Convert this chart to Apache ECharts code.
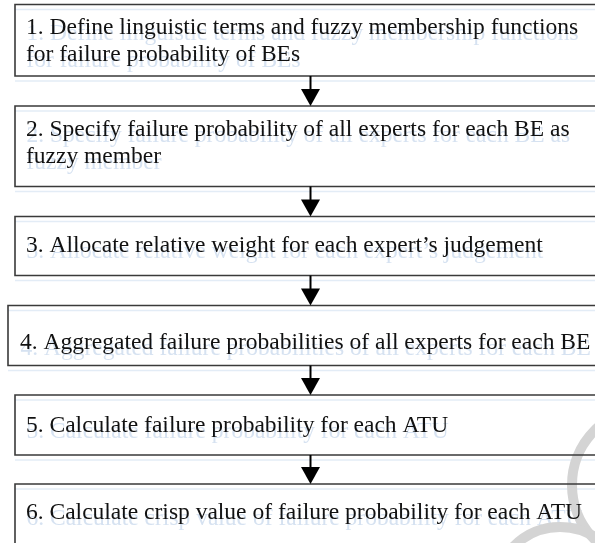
<!DOCTYPE html>
<html>
<head>
<meta charset="utf-8">
<script src="https://cdn.jsdelivr.net/npm/echarts@6/dist/echarts.min.js"></script>
<style>
html,body{margin:0;padding:0;background:#fff;}
#chart{width:595px;height:543px;}
</style>
</head>
<body>
<div id="chart"></div>
<script>
// Flowchart content
var steps = [
  ['1. Define linguistic terms and fuzzy membership functions', 'for failure probability of BEs'],
  ['2. Specify failure probability of all experts for each BE as', 'fuzzy member'],
  ['3. Allocate relative weight for each expert\u2019s judgement'],
  ['4. Aggregated failure probabilities of all experts for each BE'],
  ['5. Calculate failure probability for each ATU'],
  ['6. Calculate crisp value of failure probability for each ATU']
];

// layout (pixels)
var boxTop    = [4.5, 106, 216.5, 305.5, 395, 484];
var boxBottom = [76, 186.5, 275.5, 365.5, 455, 600];
var boxLeft   = [15, 15, 15, 8, 15, 15];
var firstBaseline = [35, 137, 253, 350, 433, 520];
var textLeft  = [26, 26, 26, 20, 26, 26];
var lineGap = 27;
var arrowX = 310.5;
var FONT = '"Liberation Serif","Times New Roman",serif';
var fontSize = 23.5;
var midOff = 0.32 * fontSize;

var g = [];
// ghost (scan bleed) layer
for (var i = 0; i < steps.length; i++) {
  [boxTop[i], boxBottom[i]].forEach(function (yy) {
    g.push({type:'line', shape:{x1:boxLeft[i], y1:yy+5, x2:600, y2:yy+5},
      style:{stroke:'#e3ecf6', lineWidth:1.5}, z:1});
  });
  steps[i].forEach(function (t, k) {
    g.push({type:'text', x:textLeft[i]+0.5, y:firstBaseline[i] + k*lineGap - midOff + 6,
      style:{text:t, font: fontSize+'px '+FONT, fill:'#d6e2f1', verticalAlign:'middle'}, z:2});
  });
}
// watermark arcs
g.push({type:'arc', shape:{cx:649, cy:485, r:77, startAngle:0, endAngle:Math.PI*2}, style:{stroke:'#d4d4d4', lineWidth:10, fill:null}, z:3});
g.push({type:'arc', shape:{cx:560, cy:592, r:65, startAngle:0, endAngle:Math.PI*2}, style:{stroke:'#d4d4d4', lineWidth:10, fill:null}, z:3});

for (var i = 0; i < steps.length; i++) {
  g.push({type:'rect', shape:{x:boxLeft[i], y:boxTop[i], width:620, height:boxBottom[i]-boxTop[i]},
    style:{stroke:'#3a3a3a', lineWidth:1.6, fill:'rgba(255,255,255,0)'}, z:5});
  steps[i].forEach(function (t, k) {
    g.push({type:'text', x:textLeft[i], y:firstBaseline[i] + k*lineGap - midOff,
      style:{text:t, font: fontSize+'px '+FONT, fill:'#111', verticalAlign:'middle'}, z:6});
  });
  if (i < steps.length - 1) {
    var y0 = boxBottom[i], y1 = boxTop[i+1];
    g.push({type:'line', shape:{x1:arrowX, y1:y0, x2:arrowX, y2:y1-15}, style:{stroke:'#000', lineWidth:2}, z:6});
    g.push({type:'polygon', shape:{points:[[arrowX-9.5, y1-17],[arrowX+9.5, y1-17],[arrowX, y1]]}, style:{fill:'#000'}, z:6});
  }
}

var chart = echarts.init(document.getElementById('chart'), null, {renderer:'canvas'});
chart.setOption({
  backgroundColor:'#fff',
  animation:false,
  graphic: g
});
</script>
</body>
</html>
